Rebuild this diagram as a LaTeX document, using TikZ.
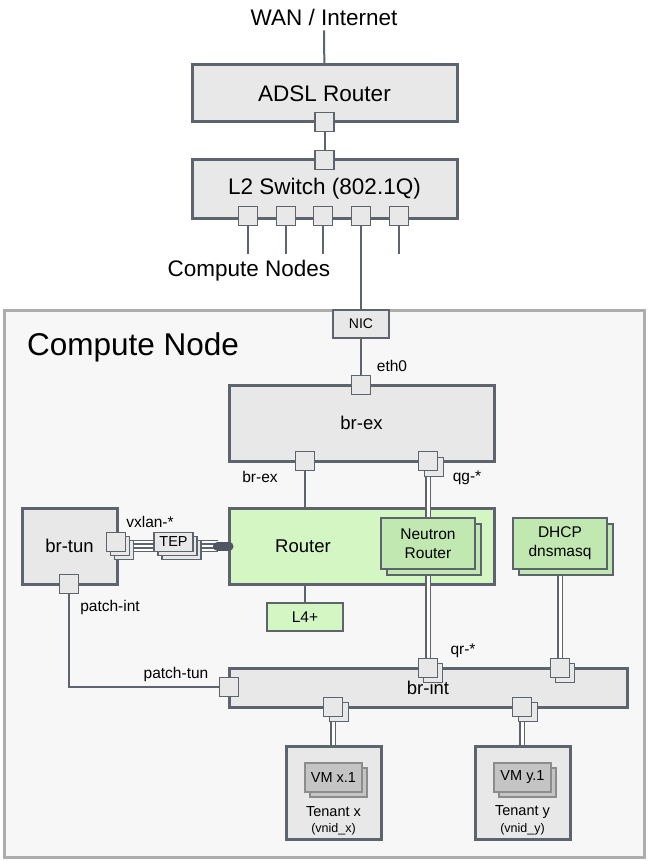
\documentclass[tikz,border=0pt]{standalone}
\usepackage{fontspec}
\setmainfont{Liberation Sans}
\usetikzlibrary{positioning}

\definecolor{edgegray}{HTML}{5E646E}
\definecolor{boxgray}{HTML}{E8E8E8}
\definecolor{framegray}{HTML}{ADADAD}
\definecolor{framefill}{HTML}{F7F7F7}
\definecolor{routergreen}{HTML}{D4F6C3}
\definecolor{nrgreen}{HTML}{C2E8B2}
\definecolor{vmgray}{HTML}{C4C4C4}
\definecolor{vmedge}{HTML}{8C8C8C}
\definecolor{blobgray}{HTML}{4F5561}

\pgfdeclarelayer{back}
\pgfdeclarelayer{wires}
\pgfsetlayers{back,wires,main}

\begin{document}
\begin{tikzpicture}[x=1pt,y=-1pt,
  box/.style={draw=edgegray, line width=3pt, fill=boxgray, inner sep=0pt, outer sep=0pt},
  port/.style={draw=edgegray, line width=1.5pt, fill=boxgray, minimum size=19pt, inner sep=0pt, outer sep=0pt},
  tag/.style={draw=edgegray, line width=1.5pt, fill=#1, inner sep=0pt, outer sep=0pt},
  wire/.style={draw=edgegray, line width=2pt},
  dwire/.style={draw=edgegray, line width=1.2pt, double=white, double distance=3pt},
  twire/.style={draw=edgegray, line width=0.9pt, double=white, double distance=1.5pt},
  hugefont/.style={font=\fontsize{31.5}{36}\selectfont},
  big/.style={font=\fontsize{22.5}{26}\selectfont},
  mid/.style={font=\fontsize{18.5}{22}\selectfont},
  lbl/.style={font=\fontsize{15.5}{19}\selectfont, inner sep=0pt},
  sm/.style={font=\fontsize{14.5}{17}\selectfont, inner sep=0pt},
  tiny/.style={font=\fontsize{12.5}{14}\selectfont, inner sep=0pt}]

\useasboundingbox (0,0) rectangle (648,861);

\begin{pgfonlayer}{back}
\node[draw=framegray, line width=3pt, fill=framefill, minimum width=640pt, minimum height=547pt, outer sep=0pt] (cn) at (324,583.5) {};
\node[box, fill=routergreen, minimum width=265pt, minimum height=76pt] (router) at (361.5,546) {};
\end{pgfonlayer}

\node[hugefont, anchor=west, inner sep=0pt] (cntitle) at (27,347) {Compute Node};

\node[big, inner sep=0pt, outer sep=5pt] (wan) at (324,17) {WAN / Internet};
\node[box, big, minimum width=265pt, minimum height=57pt] (adsl) at (324.5,93.5) {ADSL Router};
\node[port] (adslp) at (adsl.south) {};
\node[box, big, minimum width=265pt, minimum height=58pt] (switch) at (324.5,189) {L2 Switch (802.1Q)};
\node[port] (swup) at (switch.north) {};
\foreach \i/\x in {1/248,2/286,3/323,4/361,5/399}
  \node[port] (sw\i) at (\x,216) {};
\node[big] (cnodes) at (249,271) {Compute Nodes};

\node[box, line width=2pt, minimum width=56pt, minimum height=28pt, font=\fontsize{14}{16}\selectfont] (nic) at (361,324) {NIC};

\node[box, mid, minimum width=265pt, minimum height=76pt] (brex) at (361.5,423) {br-ex};
\node[port] (eth0) at (brex.north -| nic) {};
\node[lbl] at (392,366) {eth0};
\node[port] (brexl) at (305,461) {};
\node[lbl] at (260,477) {br-ex};
\node[port] at (434,467) {};
\node[port] (qg) at (428,461) {};
\node[lbl] at (467,478) {qg-*};

\node[mid] at (303,546) {Router};
\node[tag=nrgreen, line width=2pt, minimum width=94pt, minimum height=51pt] at (434,549.5) {};
\node[tag=nrgreen, line width=2pt, lbl, align=center, minimum width=94pt, minimum height=51pt] (neutron) at (428,543.5) {Neutron\\Router};
\node[tag=nrgreen, line width=2pt, minimum width=94pt, minimum height=51pt] at (566,549.5) {};
\node[tag=nrgreen, line width=2pt, lbl, align=center, minimum width=94pt, minimum height=51pt] (dhcp) at (560,543.5) {DHCP\\dnsmasq};
\node[tag=routergreen, line width=2pt, lbl, minimum width=76pt, minimum height=28pt] (l4) at (305,617) {L4+};

\node[box, mid, minimum width=95pt, minimum height=76pt] (brtun) at (69.5,546) {br-tun};
\node[port] (vx3) at (124,550) {};
\node[port] (vx2) at (120,546) {};
\node[port] (vx1) at (116,542) {};
\node[lbl] at (150,522) {vxlan-*};
\node[tag=boxgray, minimum width=39pt, minimum height=19pt] (tep3) at (181.5,550) {};
\node[tag=boxgray, minimum width=39pt, minimum height=19pt] (tep2) at (177.5,546) {};
\node[tag=boxgray, sm, minimum width=39pt, minimum height=19pt] (tep1) at (173.5,542) {TEP};
\coordinate (blob) at (217.5,546);
\node[port] (patchint) at (69,584) {};
\node[lbl] at (110,607) {patch-int};

\node[box, mid, minimum width=398pt, minimum height=39pt] (brint) at (428,687.5) {br-int};
\node[port] (patchtun) at (229,687) {};
\node[lbl] at (176,674) {patch-tun};
\node[port] at (433,673) {};
\node[port] (qr) at (428,668) {};
\node[lbl] at (463,651) {qr-*};
\node[port] at (565,673) {};
\node[port] (dhcpp) at (560,668) {};
\node[port] at (339,712) {};
\node[port] (tx) at (333,707) {};
\node[port] at (528,712) {};
\node[port] (ty) at (522,707) {};

\node[box, minimum width=95pt, minimum height=93pt] (tenx) at (333.5,792.5) {};
\node[tag=vmgray, draw=vmedge, minimum width=57pt, minimum height=29pt] at (338.5,782.5) {};
\node[tag=vmgray, draw=vmedge, sm, minimum width=57pt, minimum height=29pt] (vmx) at (333.5,777.5) {VM x.1};
\node[sm] at (333.5,812) {Tenant x};
\node[tiny] at (333.5,829) {(vnid\_x)};

\node[box, minimum width=95pt, minimum height=93pt] (teny) at (522.5,792.5) {};
\node[tag=vmgray, draw=vmedge, minimum width=57pt, minimum height=29pt] at (527.5,782.5) {};
\node[tag=vmgray, draw=vmedge, sm, minimum width=57pt, minimum height=29pt] (vmy) at (522.5,777.5) {VM y.1};
\node[sm] at (522.5,812) {Tenant y};
\node[tiny] at (522.5,829) {(vnid\_y)};

\begin{pgfonlayer}{wires}
\draw[wire] (wan) -- (adsl);
\draw[wire] (adslp) -- (swup);
\foreach \i in {1,2,3,5}
  \draw[wire] (sw\i.south) -- ++(0,28);
\draw[wire] (sw4) -- (nic);
\draw[wire] (nic) -- (eth0);
\draw[wire] (brexl) -- (brexl |- router.north);
\draw[dwire] (qg) -- (qr);
\draw[dwire] (dhcp) -- (dhcpp);
\draw[wire] (l4 |- router.south) -- (l4);
\draw[wire] (patchint) |- (patchtun);
\draw[dwire] (tx) -- (tx |- tenx.north);
\draw[dwire] (ty) -- (ty |- teny.north);
\foreach \i in {1,2,3} {
  \draw[twire] (vx\i.east) -- (tep\i.west);
  \draw[twire] (tep\i.east) -- (tep\i.east -| blob);
}
\draw[blobgray, line width=9pt, line cap=round] (blob) -- (router.west);
\end{pgfonlayer}
\end{tikzpicture}
\end{document}
